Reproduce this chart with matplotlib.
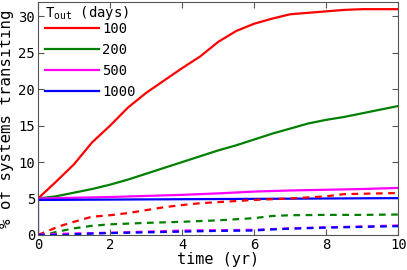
import matplotlib
matplotlib.use("Agg")
import matplotlib.pyplot as plt

plt.rcParams['font.family'] = ['DejaVu Sans Mono']
plt.rcParams['mathtext.fontset'] = 'custom'
plt.rcParams['mathtext.rm'] = 'DejaVu Sans Mono'

# solid: all transiting systems, dashed: newly transiting
t_red = [0, 0.5, 1, 1.5, 2, 2.5, 3, 3.5, 4, 4.5, 5, 5.5, 6, 6.5, 7, 7.5, 8, 8.5, 9, 10]
y_red = [5, 7.3, 9.7, 12.7, 15.0, 17.5, 19.5, 21.2, 22.9, 24.5, 26.5, 28, 29, 29.7, 30.3, 30.5, 30.7, 30.9, 31, 31]

t_green = [0, 0.5, 1, 1.5, 2, 2.5, 3, 3.5, 4, 4.5, 5, 5.5, 6, 6.5, 7, 7.5, 8, 8.5, 9, 9.5, 10]
y_green = [5.0, 5.3, 5.8, 6.3, 6.9, 7.6, 8.4, 9.2, 10.0, 10.8, 11.6, 12.3, 13.1, 13.9, 14.6, 15.3, 15.8, 16.2, 16.7, 17.2, 17.7]

t_mag = [0, 2, 4, 5, 6, 7, 8, 9, 10]
y_mag = [5.0, 5.2, 5.5, 5.7, 5.95, 6.1, 6.2, 6.3, 6.45]

t_blue = [0, 0, 2, 4, 6, 8, 10]
y_blue = [0, 4.8, 4.85, 4.9, 4.95, 5.0, 5.05]

td_red = [0, 0.3, 0.6, 1, 1.5, 2, 2.5, 3, 3.5, 4, 4.5, 5, 5.5, 6, 6.5, 7, 7.5, 8, 8.5, 9, 9.5, 10]
yd_red = [0, 0.6, 1.2, 1.8, 2.5, 2.7, 3.0, 3.4, 3.8, 4.1, 4.35, 4.5, 4.65, 4.8, 4.9, 5.0, 5.15, 5.3, 5.6, 5.65, 5.7, 5.75]

td_green = [0, 0.2, 0.5, 1, 1.5, 2, 3, 4, 5, 5.5, 6, 6.5, 7, 8, 9, 10]
yd_green = [0, 0.0, 0.4, 0.9, 1.25, 1.45, 1.65, 1.8, 2.0, 2.15, 2.3, 2.6, 2.7, 2.75, 2.75, 2.8]

td_mag = [0, 0.3, 1, 2, 3, 4, 5, 6, 6.5, 7, 8, 9, 10]
yd_mag = [0, 0.1, 0.2, 0.3, 0.45, 0.6, 0.65, 0.7, 0.8, 0.9, 1.05, 1.15, 1.3]

td_blue = [0, 0.8, 1, 2, 3, 4, 5, 6, 6.5, 7, 8, 9, 10]
yd_blue = [0, 0.0, 0.1, 0.25, 0.35, 0.45, 0.55, 0.6, 0.75, 0.85, 1.0, 1.1, 1.2]

labels = ['100', '200', '500', '1000']
colors = ['#ff0000', '#008000', '#ff00ff', '#0000ff']

fig = plt.figure(figsize=(4.07, 2.70), dpi=100)
ax = fig.add_axes([0.0934, 0.130, 0.885, 0.863])

solid = [(t_red, y_red), (t_green, y_green), (t_mag, y_mag), (t_blue, y_blue)]
dashed = [(td_red, yd_red), (td_green, yd_green), (td_mag, yd_mag), (td_blue, yd_blue)]
for (t, y), lab, c in zip(solid, labels, colors):
    ax.plot(t, y, color=c, lw=1.6, label=lab)
for (t, y), c in zip(dashed, colors):
    ax.plot(t, y, color=c, lw=1.6, ls='--', dashes=(3, 2.5))

ax.set_xlim(0, 10)
ax.set_ylim(0, 32)
ax.set_xticks([0, 2, 4, 6, 8, 10])
ax.set_yticks([0, 5, 10, 15, 20, 25, 30])
ax.tick_params(direction='in', top=True, right=True, labelsize=10, length=4, color='#555555', pad=2)
for s in ax.spines.values():
    s.set_color('#555555')

ax.set_xlabel('time (yr)', fontsize=11, labelpad=0)
ax.set_ylabel('% of systems transiting', fontsize=11.3)
ax.yaxis.set_label_coords(-0.067, 0.5)

leg = ax.legend(loc='upper left', bbox_to_anchor=(0.014, 1.0), frameon=False,
                title=r'T$_{\rm out}$ (days)', fontsize=10,
                title_fontsize=10, handlelength=3.9, handletextpad=0.2, labelspacing=0.5,
                borderaxespad=0.1, borderpad=0.05)
leg._legend_box.align = 'left'
leg._legend_box.sep = 0

fig.savefig('out.png', dpi=100)
